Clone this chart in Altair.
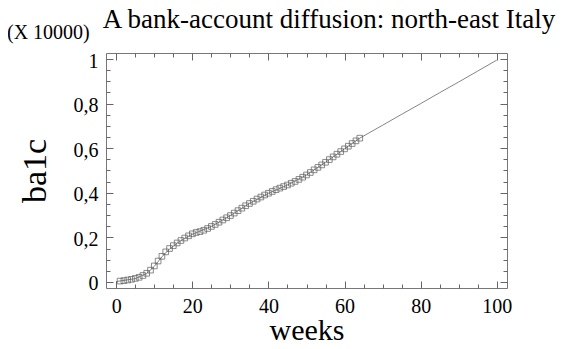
import altair as alt
import pandas as pd

# observed data (squares), weeks 1..64
weeks = list(range(1, 65))
ba1c = [0.004, 0.006, 0.009, 0.012, 0.016, 0.021, 0.029, 0.039, 0.053, 0.072,
        0.094, 0.115, 0.135, 0.150, 0.163, 0.175, 0.186, 0.197, 0.207, 0.216,
        0.222, 0.226, 0.232, 0.240, 0.249, 0.258, 0.268, 0.278, 0.288, 0.298,
        0.309, 0.320, 0.331, 0.342, 0.352, 0.362, 0.372, 0.381, 0.390, 0.398,
        0.406, 0.414, 0.421, 0.428, 0.435, 0.443, 0.451, 0.460, 0.470, 0.480,
        0.491, 0.503, 0.514, 0.525, 0.537, 0.549, 0.561, 0.573, 0.585, 0.597,
        0.609, 0.621, 0.633, 0.645]

# fitted curve (line)
fit_weeks = [0, 5, 8, 10, 12, 14, 16, 18, 20, 22, 25, 30, 35, 40, 45, 50, 55,
             60, 64, 70, 75, 80, 85, 90, 95, 100]
fit_vals = [0.002, 0.015, 0.038, 0.070, 0.113, 0.148, 0.174, 0.196, 0.214,
            0.228, 0.249, 0.298, 0.352, 0.398, 0.435, 0.480, 0.537, 0.597,
            0.645, 0.703, 0.752, 0.800, 0.849, 0.897, 0.946, 0.995]

major_x = [0, 20, 40, 60, 80, 100]
minor_x = [5, 10, 15, 25, 30, 35, 45, 50, 55, 65, 70, 75, 85, 90, 95]
major_y = [0, 0.2, 0.4, 0.6, 0.8, 1]
minor_y = [0.05, 0.1, 0.15, 0.25, 0.3, 0.35, 0.45, 0.5, 0.55, 0.65, 0.7, 0.75,
           0.85, 0.9, 0.95]

title_text = ["A bank-account diffusion: north-east Italy"]
scale_note = ["(X 10000)"]

obs = pd.DataFrame({"week": weeks, "ba1c": ba1c})
fit = pd.DataFrame({"week": fit_weeks, "ba1c": fit_vals})

FONT = "Liberation Serif"
TICK = "#666666"
xs = alt.Scale(domain=[-2.7, 102.7], nice=False, zero=False)
ys = alt.Scale(domain=[-0.027, 1.027], nice=False, zero=False)


def tick_axis(orient, values, size):
    return alt.Axis(orient=orient, values=values, tickSize=size, offset=-size,
                    labels=False, domain=False, grid=False, title=None,
                    ticks=True, tickColor=TICK, tickWidth=1)


x_lab = alt.Axis(orient="bottom", values=major_x, ticks=False, domain=False,
                 grid=False, labelFont=FONT, labelFontSize=20, labelPadding=8,
                 labelColor="black", title="weeks", titleFont=FONT,
                 titleFontSize=30, titleFontWeight="normal",
                 titleBaseline="alphabetic", titlePadding=23,
                 titleColor="black")
y_lab = alt.Axis(orient="left", values=major_y, ticks=False, domain=False,
                 grid=False, labelFont=FONT, labelFontSize=20, labelPadding=8,
                 labelColor="black", labelOffset=2,
                 labelExpr="datum.value == 0 ? '0' : datum.value == 1 ? '1' : replace(format(datum.value, '.1f'), '.', ',')",
                 title="ba1c", titleFont=FONT, titleFontSize=34,
                 titleFontWeight="normal", titlePadding=21, titleColor="black")

line = alt.Chart(fit).mark_line(color="#666666", strokeWidth=0.8).encode(
    x=alt.X("week:Q", scale=xs, axis=x_lab),
    y=alt.Y("ba1c:Q", scale=ys, axis=y_lab),
)

pts = alt.Chart(obs).mark_point(shape="square", filled=False, size=32,
                                color="#555555", strokeWidth=0.8, opacity=0.85).encode(
    x=alt.X("week:Q", scale=xs, axis=tick_axis("bottom", major_x, 7)),
    y=alt.Y("ba1c:Q", scale=ys, axis=tick_axis("left", major_y, 7)),
)


def ghost(xa, ya):
    return alt.Chart(fit).mark_line(opacity=0).encode(
        x=alt.X("week:Q", scale=xs, axis=xa),
        y=alt.Y("ba1c:Q", scale=ys, axis=ya),
    )


g1 = ghost(tick_axis("bottom", minor_x, 4), tick_axis("left", minor_y, 4))
g2 = ghost(tick_axis("top", major_x, 7), tick_axis("right", major_y, 7))
g3 = ghost(tick_axis("top", minor_x, 4), tick_axis("right", minor_y, 4))

note = alt.Chart(pd.DataFrame({"t": scale_note})).mark_text(
    font=FONT, fontSize=20, align="left", baseline="alphabetic", color="black"
).encode(x=alt.value(-99), y=alt.value(-14), text="t:N")

title = alt.Chart(pd.DataFrame({"t": title_text})).mark_text(
    font=FONT, fontSize=27, align="center", baseline="alphabetic", color="black"
).encode(x=alt.value(223), y=alt.value(-25), text="t:N")

chart = alt.layer(line, pts, g1, g2, g3, note, title).resolve_axis(
    x="independent", y="independent"
).properties(
    width=401, height=235,
    autosize=alt.AutoSizeParams(type="none"),
    padding={"left": 98, "top": 45, "right": 54, "bottom": 53},
).configure_view(stroke="#777777", strokeWidth=1)

chart.save("out.html", embed_options={"renderer": "svg", "actions": False})
